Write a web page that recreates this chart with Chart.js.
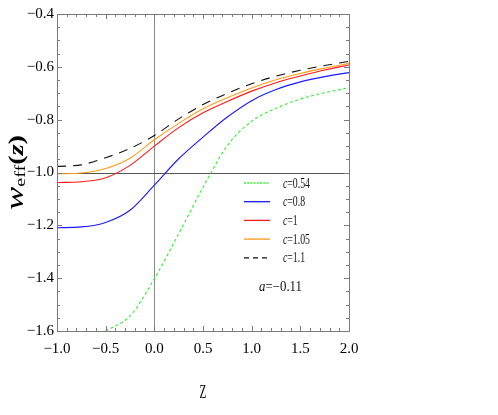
<!DOCTYPE html>
<html>
<head>
<meta charset="utf-8">
<script src="https://cdn.jsdelivr.net/npm/chart.js@4/dist/chart.umd.min.js"></script>
<style>
html,body{margin:0;padding:0;background:#fff;}
#c{display:block;}
</style>
</head>
<body>
<canvas id="c" width="498" height="415"></canvas>
<script>
// ---- data ----
const zValues = [-1, -0.75, -0.5, -0.25, 0, 0.25, 0.5, 0.75, 1, 1.25, 1.5, 1.75, 2];
const wC080 = [-1.209, -1.206, -1.189, -1.143, -1.048, -0.948, -0.866, -0.790, -0.728, -0.686, -0.657, -0.637, -0.622];
const wC100 = [-1.038, -1.035, -1.020, -0.973, -0.900, -0.830, -0.774, -0.731, -0.692, -0.660, -0.635, -0.612, -0.593];
const wC105 = [-1.005, -1.002, -0.985, -0.946, -0.876, -0.814, -0.759, -0.717, -0.680, -0.649, -0.625, -0.605, -0.587];
const wC110 = [-0.977, -0.971, -0.944, -0.909, -0.860, -0.797, -0.743, -0.700, -0.664, -0.635, -0.613, -0.595, -0.579];
const zGreen = [-0.5, -0.25, 0, 0.25, 0.5, 0.75, 1, 1.25, 1.5, 1.75, 2];
const wC054 = [-1.600, -1.543, -1.402, -1.232, -1.056, -0.898, -0.806, -0.757, -0.722, -0.698, -0.679];
const seriesLabels = ['0.54', '0.8', '1', '1.05', '1.1'];
const xTicks = [-1.0, -0.5, 0.0, 0.5, 1.0, 1.5, 2.0];
const yTicks = [-1.6, -1.4, -1.2, -1.0, -0.8, -0.6, -0.4];
const paramLabel = '−0.11';

const pts = (xs, ys) => xs.map((x, i) => ({x: x, y: ys[i]}));
const fmt = v => { const s = Number(v).toFixed(1); return s === '-0.0' ? '0.0' : s.replace('-', '−'); };

const datasets = [
  {label: seriesLabels[0], data: pts(zGreen, wC054), borderColor: '#33ee33', borderWidth: 1.1, borderDash: [3, 2.5]},
  {label: seriesLabels[1], data: pts(zValues, wC080), borderColor: '#1a1aff', borderWidth: 1.1, borderDash: []},
  {label: seriesLabels[2], data: pts(zValues, wC100), borderColor: '#ff1a1a', borderWidth: 1.1, borderDash: []},
  {label: seriesLabels[3], data: pts(zValues, wC105), borderColor: '#ff9c1a', borderWidth: 1.1, borderDash: []},
  {label: seriesLabels[4], data: pts(zValues, wC110), borderColor: '#111111', borderWidth: 1.1, borderDash: [9, 7]}
].map(d => Object.assign(d, {pointRadius: 0, fill: false, cubicInterpolationMode: 'monotone'}));

const SERIF = '"Liberation Serif", "Times New Roman", serif';

function drawScaledText(ctx, parts, x, y, sx) {
  ctx.save();
  ctx.translate(x, y);
  ctx.scale(sx, 1);
  let cx = 0;
  for (const p of parts) {
    ctx.font = p.font;
    ctx.fillText(p.t, cx, p.dy || 0);
    cx += ctx.measureText(p.t).width;
  }
  ctx.restore();
}
function partsWidth(ctx, parts) {
  let w = 0;
  for (const p of parts) { ctx.font = p.font; w += ctx.measureText(p.t).width; }
  return w;
}

const framePlugin = {
  id: 'framePlugin',
  beforeDatasetsDraw(chart) {
    const {ctx, chartArea: a, scales: {x, y}} = chart;
    ctx.save();
    ctx.lineWidth = 1;
    ctx.strokeStyle = '#8a8a8a';
    const x0 = Math.round(x.getPixelForValue(0)) + 0.5;
    ctx.beginPath(); ctx.moveTo(x0, a.top); ctx.lineTo(x0, a.bottom); ctx.stroke();
    ctx.strokeStyle = '#555';
    const y1 = Math.round(y.getPixelForValue(-1)) + 0.5;
    ctx.beginPath(); ctx.moveTo(a.left, y1); ctx.lineTo(a.right, y1); ctx.stroke();
    ctx.restore();
  },
  afterDatasetsDraw(chart) {
    const {ctx, chartArea: a, scales: {x, y}} = chart;
    ctx.save();
    ctx.strokeStyle = '#7a7a7a';
    ctx.lineWidth = 1;
    ctx.strokeRect(Math.round(a.left) + 0.5, Math.round(a.top) + 0.5, Math.round(a.right - a.left), Math.round(a.bottom - a.top));
    ctx.beginPath();
    for (let i = 0; i <= 30; i++) {
      const v = -1 + i * 0.1;
      const px = Math.round(x.getPixelForValue(v)) + 0.5;
      const len = (i % 5 === 0) ? 5 : 3;
      ctx.moveTo(px, a.bottom); ctx.lineTo(px, a.bottom - len);
      ctx.moveTo(px, a.top); ctx.lineTo(px, a.top + len);
    }
    for (let i = 0; i <= 24; i++) {
      const v = -1.6 + i * 0.05;
      const py = Math.round(y.getPixelForValue(v)) + 0.5;
      const len = (i % 4 === 0) ? 5 : 3;
      ctx.moveTo(a.left, py); ctx.lineTo(a.left + len, py);
      ctx.moveTo(a.right, py); ctx.lineTo(a.right - len, py);
    }
    ctx.stroke();

    // legend inside the plot
    ctx.fillStyle = '#111';
    ctx.textBaseline = 'alphabetic';
    const rowY0 = 183, rowDY = 18.7;
    const ref = [{t: 'c', font: 'italic 14px ' + SERIF}, {t: '=0.54', font: '14px ' + SERIF}];
    const sx = 27 / partsWidth(ctx, ref);
    chart.data.datasets.forEach((d, i) => {
      const ry = rowY0 + i * rowDY;
      ctx.save();
      ctx.strokeStyle = d.borderColor;
      ctx.lineWidth = 1.3;
      ctx.setLineDash(d.borderDash && d.borderDash.length ? (i === 0 ? [2, 1.2] : [5, 4]) : []);
      ctx.beginPath(); ctx.moveTo(244, ry); ctx.lineTo(270, ry); ctx.stroke();
      ctx.restore();
      drawScaledText(ctx, [{t: 'c', font: 'italic 14px ' + SERIF}, {t: '=' + d.label, font: '14px ' + SERIF}], 283, ry + 4.5, sx);
    });
    const ap = [{t: 'a', font: 'italic 14px ' + SERIF}, {t: '=' + paramLabel, font: '14px ' + SERIF}];
    drawScaledText(ctx, ap, 259, 290.5, 43 / partsWidth(ctx, ap));

    // axis titles
    ctx.fillStyle = '#000';
    drawScaledText(ctx, [{t: 'Z', font: '18px ' + SERIF}], 199.5, 398, 0.62);
    const yp = [
      {t: 'w', font: 'italic 26px ' + SERIF},
      {t: 'eff', font: '15px ' + SERIF, dy: 2},
      {t: '(', font: 'bold 21px ' + SERIF},
      {t: 'z', font: 'bold italic 21px ' + SERIF},
      {t: ')', font: 'bold 21px ' + SERIF}
    ];
    const tw = partsWidth(ctx, yp);
    ctx.save();
    ctx.translate(23, 210);
    ctx.rotate(-Math.PI / 2);
    drawScaledText(ctx, yp, 0, 0, 75 / tw);
    ctx.restore();
    ctx.restore();
  }
};

new Chart(document.getElementById('c'), {
  type: 'line',
  data: {datasets: datasets},
  options: {
    responsive: false,
    devicePixelRatio: 1,
    animation: false,
    layout: {padding: {left: 0, top: 14, right: 149, bottom: 0}},
    plugins: {legend: {display: false}, tooltip: {enabled: false}},
    scales: {
      x: {
        type: 'linear', min: -1, max: 2,
        afterBuildTicks: s => { s.ticks = xTicks.map(v => ({value: v})); },
        afterFit: s => { s.height = 84; },
        ticks: {callback: v => fmt(v), font: {family: SERIF, size: 15}, color: '#000', padding: 9, maxRotation: 0, autoSkip: false},
        grid: {display: false, drawTicks: false},
        border: {display: false}
      },
      y: {
        type: 'linear', min: -1.6, max: -0.4,
        afterBuildTicks: s => { s.ticks = yTicks.map(v => ({value: v})); },
        afterFit: s => { s.width = 57; },
        ticks: {callback: v => fmt(v), font: {family: SERIF, size: 15}, color: '#000', padding: 3, autoSkip: false},
        grid: {display: false, drawTicks: false},
        border: {display: false}
      }
    }
  },
  plugins: [framePlugin]
});
</script>
</body>
</html>
